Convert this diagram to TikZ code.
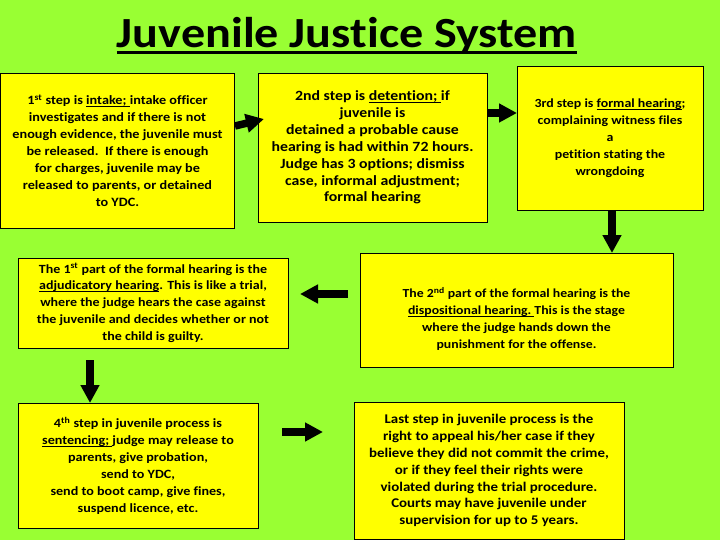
\documentclass[tikz,border=0pt]{standalone}
\usepackage{fontspec}
\setmainfont{Carlito}[Ligatures=NoCommon, FakeStretch=1.12]
\usetikzlibrary{arrows.meta}
\definecolor{bggreen}{RGB}{153,255,51}
\definecolor{boxyellow}{RGB}{255,255,0}
\newcommand\myul[3]{\setbox0=\hbox{#3}\leavevmode\rlap{\rule[-#1]{\wd0}{#2}}\box0}
\newcommand\bul[1]{\myul{2.2pt}{0.9pt}{#1}}
\newcommand\fs[1]{\fontsize{#1}{16.9}\selectfont\bfseries}
\tikzset{
  stepbox/.style={draw=black, line width=0.9pt, fill=boxyellow, inner sep=0pt, align=center,
    font=\fs{13}},
  boxtext/.style={inner sep=0pt, align=center, font=\fs{13}},
  blockarrow/.style={line width=7.5pt, -{Triangle[length=18pt,width=18pt]}}
}
\begin{document}
\begin{tikzpicture}[x=1pt,y=-1pt]
\useasboundingbox (0,0) rectangle (720,540);
\fill[bggreen] (0,0) rectangle (720,540);
\node[font=\fontsize{43}{50}\selectfont\bfseries] (title) at (347,36)
  {\myul{6.5pt}{3pt}{Juvenile Justice System}};
% boxes
\node[stepbox, font=\fs{12.7}, minimum width=234pt, minimum height=155pt] (b1) at (117.5,150.5)
  {1\textsuperscript{st} step is \bul{intake;\ }intake officer\\ investigates and if there is not\\ enough evidence, the juvenile must\\ be released.\ \ If there is enough\\ for charges, juvenile may be\\ released to parents, or detained\\ to YDC.};
\node[stepbox, font=\fs{14.1}, minimum width=229pt, minimum height=149pt] (b2) at (372.5,147.5)
  {2nd step is \bul{detention;\ }if\\ juvenile is\\ detained a probable cause\\ hearing is had within 72 hours.\\ Judge has 3 options; dismiss\\ case, informal adjustment;\\ formal hearing};
\node[stepbox, font=\fs{12.4}, minimum width=186pt, minimum height=144pt] (b3) at (610,138)
  {3rd step is \bul{formal hearing};\\ complaining witness files\\ a\\ petition stating the\\ wrongdoing};
\node[stepbox, minimum width=313pt, minimum height=114pt] (b4) at (516.5,310) {};
\node[boxtext, font=\fs{12.3}, yshift=-9pt] (t4) at (b4.center)
  {The 2\textsuperscript{nd} part of the formal hearing is the\\ \bul{dispositional hearing.\ }This is the stage\\ where the judge hands down the\\ punishment for the offense.};
\node[stepbox, font=\fs{12.5}, minimum width=270pt, minimum height=90pt] (b5) at (153,303)
  {The 1\textsuperscript{st} part of the formal hearing is the\\ \bul{adjudicatory hearing}. This is like a trial,\\ where the judge hears the case against\\ the juvenile and decides whether or not\\ the child is guilty.};
\node[stepbox, font=\fs{12.6}, minimum width=240pt, minimum height=125pt] (b6) at (138,465.5)
  {4\textsuperscript{th} step in juvenile process is\\ \bul{sentencing;\ }judge may release to\\ parents, give probation,\\ send to YDC,\\ send to boot camp, give fines,\\ suspend licence, etc.};
\node[stepbox, font=\fs{13.3}, minimum width=270pt, minimum height=137pt] (b7) at (489,470.5)
  {Last step in juvenile process is the\\ right to appeal his/her case if they\\ believe they did not commit the crime,\\ or if they feel their rights were\\ violated during the trial procedure.\\ Courts may have juvenile under\\ supervision for up to 5 years.};
% arrows
\coordinate (a1s) at (235,126);
\coordinate (a1e) at (264,119);
\coordinate (a2s) at (488,113);
\coordinate (a2e) at (517,113);
\coordinate (a3s) at (612,210.5);
\coordinate (a3e) at (612,253);
\coordinate (a4s) at (348,294);
\coordinate (a4e) at (300,294);
\coordinate (a5s) at (90,360);
\coordinate (a5e) at (90,403);
\coordinate (a6s) at (282,432);
\coordinate (a6e) at (323,432);
\draw[blockarrow] (a1s) -- (a1e);
\draw[blockarrow] (a2s) -- (a2e);
\draw[blockarrow] (a3s) -- (a3e);
\draw[blockarrow] (a4s) -- (a4e);
\draw[blockarrow] (a5s) -- (a5e);
\draw[blockarrow] (a6s) -- (a6e);
\end{tikzpicture}
\end{document}
